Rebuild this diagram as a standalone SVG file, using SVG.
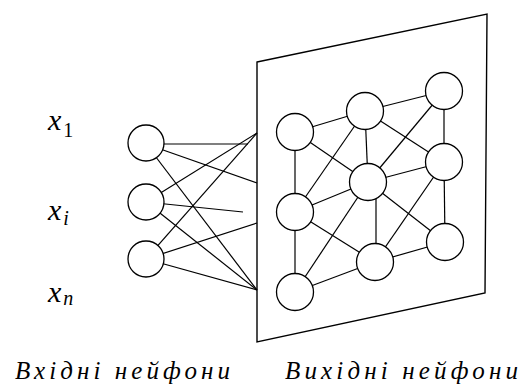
<svg xmlns="http://www.w3.org/2000/svg" width="523" height="390" viewBox="0 0 523 390">
<style>
.n{fill:#fff;stroke:#000;stroke-width:1.3}
.c line{stroke:#000;stroke-width:1.2}
.pl{fill:none;stroke:#000;stroke-width:1.4}
</style>
<rect width="523" height="390" fill="#fff"/>
<g id="plane"><polygon class="pl" points="257,62 487,14 485,293 257,342"/></g>
<g id="connectors" class="c">
<line x1="146" y1="144" x2="248" y2="144"/>
<line x1="146" y1="144" x2="257" y2="183"/>
<line x1="146" y1="144" x2="257" y2="290"/>
<line x1="146" y1="202" x2="243" y2="212"/>
<line x1="146" y1="202" x2="257" y2="133"/>
<line x1="146" y1="202" x2="257" y2="290"/>
<line x1="146" y1="259" x2="257" y2="133"/>
<line x1="146" y1="259" x2="257" y2="223"/>
<line x1="146" y1="259" x2="257" y2="290"/>
<line x1="295" y1="132" x2="365" y2="111"/>
<line x1="365" y1="111" x2="444" y2="91"/>
<line x1="295" y1="132" x2="295" y2="212"/>
<line x1="295" y1="212" x2="295" y2="292"/>
<line x1="365" y1="111" x2="368" y2="182"/>
<line x1="444" y1="91" x2="444" y2="162"/>
<line x1="444" y1="162" x2="445" y2="242"/>
<line x1="368" y1="182" x2="444" y2="162"/>
<line x1="295" y1="212" x2="368" y2="182"/>
<line x1="376" y1="182" x2="376" y2="262"/>
<line x1="375" y1="262" x2="445" y2="242"/>
<line x1="295" y1="292" x2="375" y2="262"/>
<line x1="295" y1="132" x2="368" y2="182"/>
<line x1="365" y1="111" x2="295" y2="212"/>
<line x1="365" y1="111" x2="444" y2="162"/>
<line x1="444" y1="91" x2="368" y2="182"/>
<line x1="295" y1="212" x2="375" y2="262"/>
<line x1="368" y1="182" x2="295" y2="292"/>
<line x1="368" y1="182" x2="445" y2="242"/>
<line x1="444" y1="162" x2="375" y2="262"/>
</g>
<g id="in1"><circle class="n" cx="146" cy="143" r="18"/></g>
<g id="in2"><circle class="n" cx="146" cy="202" r="18"/></g>
<g id="in3"><circle class="n" cx="146" cy="259" r="18"/></g>
<g id="o1"><circle class="n" cx="295" cy="132" r="18.5"/></g>
<g id="o2"><circle class="n" cx="365" cy="111" r="18.5"/></g>
<g id="o3"><circle class="n" cx="444" cy="91" r="18.5"/></g>
<g id="o4"><circle class="n" cx="295" cy="212" r="18.5"/></g>
<g id="o5"><circle class="n" cx="368" cy="182" r="18.5"/></g>
<g id="o6"><circle class="n" cx="444" cy="162" r="18.5"/></g>
<g id="o7"><circle class="n" cx="295" cy="292" r="18.5"/></g>
<g id="o8"><circle class="n" cx="375" cy="262" r="18.5"/></g>
<g id="o9"><circle class="n" cx="445" cy="242" r="18.5"/></g>
<g id="labels" font-family="Liberation Serif, serif" font-style="italic" fill="#000">
<text x="48" y="130" font-size="30">x<tspan font-size="20" font-style="normal" dy="7" dx="2">1</tspan></text>
<text x="48" y="220" font-size="30">x<tspan font-size="20" dy="5" dx="2">i</tspan></text>
<text x="48" y="302" font-size="30">x<tspan font-size="20" dy="3" dx="2">n</tspan></text>
<text x="15" y="379" font-size="25" textLength="215" lengthAdjust="spacing">Вхідні нейфони</text>
<text x="285" y="379" font-size="25" textLength="233" lengthAdjust="spacing">Вихідні нейфони</text>
</g>
</svg>
